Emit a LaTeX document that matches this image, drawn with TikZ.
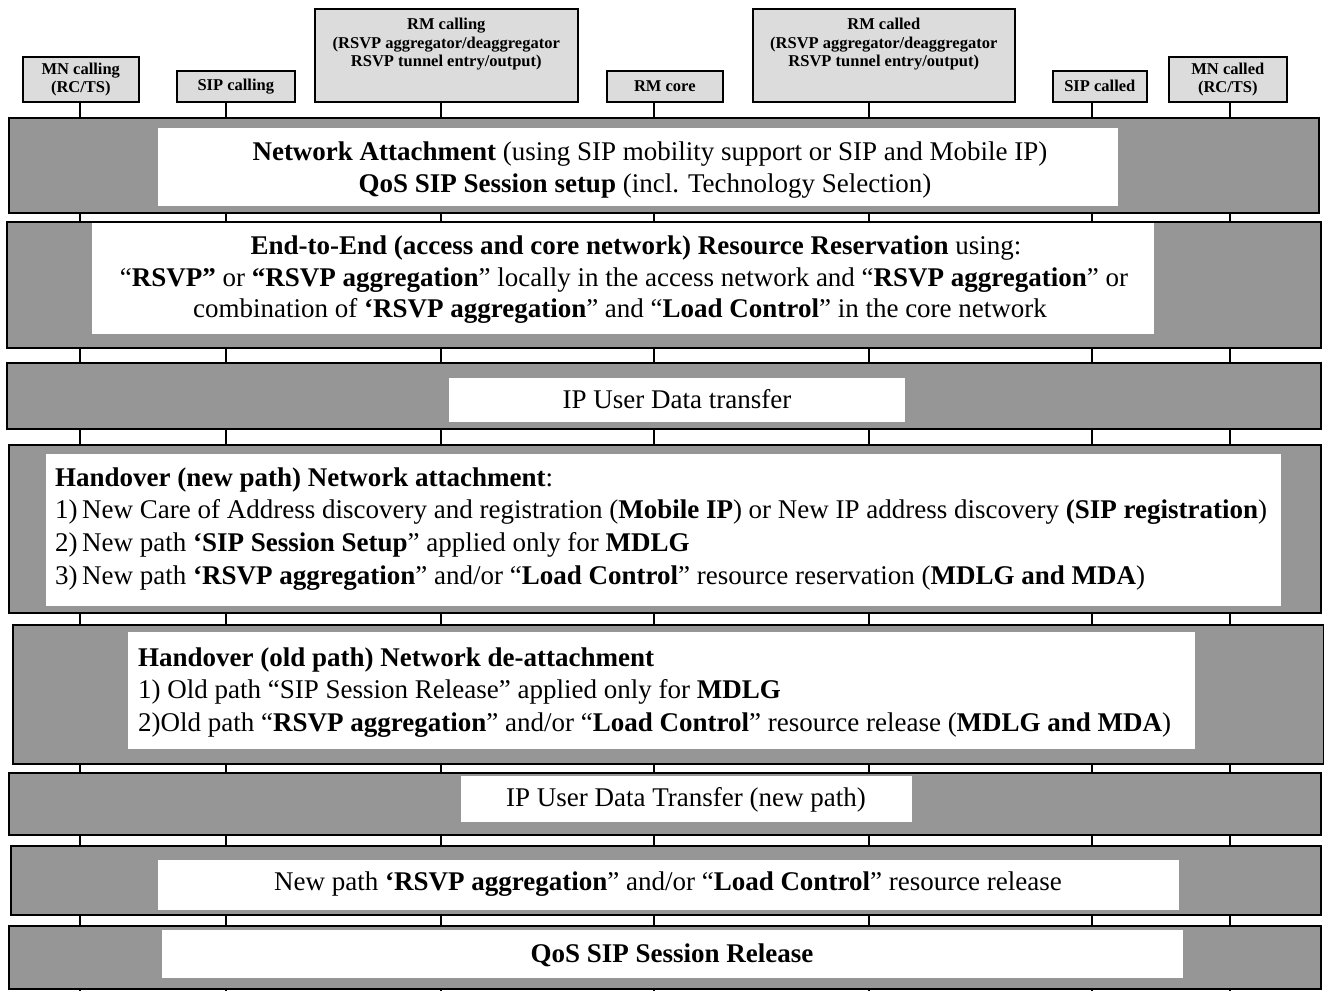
\documentclass[tikz,border=0pt]{standalone}
\usepackage{fontspec}
\setmainfont{Liberation Serif}
\definecolor{bandgray}{HTML}{969696}
\definecolor{boxgray}{HTML}{DCDCDC}
\begin{document}
\begin{tikzpicture}[x=1pt,y=-1pt,
  entity/.style={draw=black, line width=1.6pt, fill=boxgray, inner sep=0pt,
    anchor=north west, align=center, font=\fontsize{16.5pt}{18pt}\selectfont\bfseries},
  entitytext/.style={inner sep=0pt, align=center, anchor=north,
    font=\fontsize{16.5pt}{18.5pt}\selectfont\bfseries},
  lifeline/.style={draw=black, line width=1.3pt},
  band/.style={draw=black, line width=1.8pt, fill=bandgray, inner sep=0pt, anchor=north west},
  panel/.style={fill=white, draw=none, inner sep=0pt, anchor=north west},
  txt/.style={inner sep=0pt, anchor=base, font=\fontsize{27pt}{32.5pt}\selectfont},
  ltxt/.style={txt, anchor=base west}]
\useasboundingbox (0,0) rectangle (1324,991);

% ---- participants ----
\node[entity, minimum width=116pt, minimum height=45pt] (mnA) at (22,56) {\raisebox{-2pt}{MN calling}\\\raisebox{-2pt}{(RC/TS)}};
\node[entity, minimum width=118pt, minimum height=31pt] (sipA) at (176,70) {SIP calling};
\node[entity, minimum width=263pt, minimum height=93pt] (rmA) at (314,8) {};
\node[entitytext] (rmAtxt) at (rmA.north |- 0,18) {RM calling\\(RSVP aggregator/deaggregator\\RSVP tunnel entry/output)};
\node[entity, minimum width=116pt, minimum height=31pt] (rmC) at (606,70) {RM core};
\node[entity, minimum width=262pt, minimum height=93pt] (rmB) at (752,8) {};
\node[entitytext] (rmBtxt) at (rmB.north |- 0,18) {RM called\\(RSVP aggregator/deaggregator\\RSVP tunnel entry/output)};
\node[entity, minimum width=94pt, minimum height=31pt] (sipB) at (1052,70) {SIP called};
\node[entity, minimum width=118pt, minimum height=45pt] (mnB) at (1168,56) {\raisebox{-2pt}{MN called}\\\raisebox{-2pt}{(RC/TS)}};

% ---- lifelines (behind the phase bands) ----
\coordinate (fA) at (80,991);
\coordinate (fB) at (226,991);
\coordinate (fC) at (441,991);
\coordinate (fD) at (654,991);
\coordinate (fE) at (869,991);
\coordinate (fF) at (1092,991);
\coordinate (fG) at (1230,991);
\draw[lifeline] (mnA.south -| fA) -- (fA);
\draw[lifeline] (sipA.south -| fB) -- (fB);
\draw[lifeline] (rmA.south -| fC) -- (fC);
\draw[lifeline] (rmC.south -| fD) -- (fD);
\draw[lifeline] (rmB.south -| fE) -- (fE);
\draw[lifeline] (sipB.south -| fF) -- (fF);
\draw[lifeline] (mnB.south -| fG) -- (fG);

% ---- phase 1 ----
\node[band, minimum width=1310pt, minimum height=95pt] (band1) at (8,117) {};
\node[panel, minimum width=960pt, minimum height=78pt] (panel1) at (158,128) {};
\node[txt] (t1a) at (650,160) {\textbf{Network Attachment} (using SIP mobility support or SIP and Mobile IP)};
\node[txt] (t1b) at (645,192) {\textbf{QoS SIP Session setup} (incl. Technology Selection)};

% ---- phase 2 ----
\node[band, minimum width=1314pt, minimum height=126pt] (band2) at (6,221) {};
\node[panel, minimum width=1062pt, minimum height=111pt] (panel2) at (92,223) {};
\node[txt] (t2a) at (636,254) {\textbf{End-to-End (access and core network) Resource Reservation} using:};
\node[txt] (t2b) at (624,286) {“\textbf{RSVP”} or \textbf{“RSVP aggregation}” locally in the access network and “\textbf{RSVP aggregation}” or};
\node[txt] (t2c) at (620,317) {combination of \textbf{‘RSVP aggregation}” and “\textbf{Load Control}” in the core network};

% ---- phase 3 ----
\node[band, minimum width=1314pt, minimum height=66pt] (band3) at (6,362) {};
\node[panel, minimum width=456pt, minimum height=44pt] (panel3) at (449,378) {};
\node[txt] (t3) at (677,408) {IP User Data transfer};

% ---- phase 4 ----
\node[band, minimum width=1312pt, minimum height=168pt] (band4) at (8,444) {};
\node[panel, minimum width=1235pt, minimum height=152pt] (panel4) at (46,454) {};
\node[ltxt] (t4a) at (55,486) {\textbf{Handover (new path) Network attachment}:};
\node[ltxt] (t4b) at (55,518) {\makebox[27pt][l]{1)}New Care of Address discovery and registration (\textbf{Mobile IP}) or New IP address discovery \textbf{(SIP registration})};
\node[ltxt] (t4c) at (55,551) {\makebox[27pt][l]{2)}New path \textbf{‘SIP Session Setup}” applied only for \textbf{MDLG}};
\node[ltxt] (t4d) at (55,584) {\makebox[27pt][l]{3)}New path \textbf{‘RSVP aggregation}” and/or “\textbf{Load Control}” resource reservation (\textbf{MDLG and MDA})};

% ---- phase 5 ----
\node[band, minimum width=1311pt, minimum height=139pt] (band5) at (12,624) {};
\node[panel, minimum width=1067pt, minimum height=117pt] (panel5) at (128,632) {};
\node[ltxt] (t5a) at (138,666) {\textbf{Handover (old path) Network de-attachment}};
\node[ltxt] (t5b) at (138,698) {1) Old path “SIP Session Release” applied only for \textbf{MDLG}};
\node[ltxt] (t5c) at (138,731) {2)Old path “\textbf{RSVP aggregation}” and/or “\textbf{Load Control}” resource release (\textbf{MDLG and MDA})};

% ---- phase 6 ----
\node[band, minimum width=1312pt, minimum height=62pt] (band6) at (8,772) {};
\node[panel, minimum width=451pt, minimum height=46pt] (panel6) at (461,776) {};
\node[txt] (t6) at (686,806) {IP User Data Transfer (new path)};

% ---- phase 7 ----
\node[band, minimum width=1310pt, minimum height=69pt] (band7) at (10,845) {};
\node[panel, minimum width=1021pt, minimum height=50pt] (panel7) at (158,860) {};
\node[txt] (t7) at (668,890) {New path \textbf{‘RSVP aggregation}” and/or “\textbf{Load Control}” resource release};

% ---- phase 8 ----
\node[band, minimum width=1312pt, minimum height=63pt] (band8) at (8,925) {};
\node[panel, minimum width=1021pt, minimum height=48pt] (panel8) at (162,930) {};
\node[txt] (t8) at (672,962) {\textbf{QoS SIP Session Release}};
\end{tikzpicture}
\end{document}
